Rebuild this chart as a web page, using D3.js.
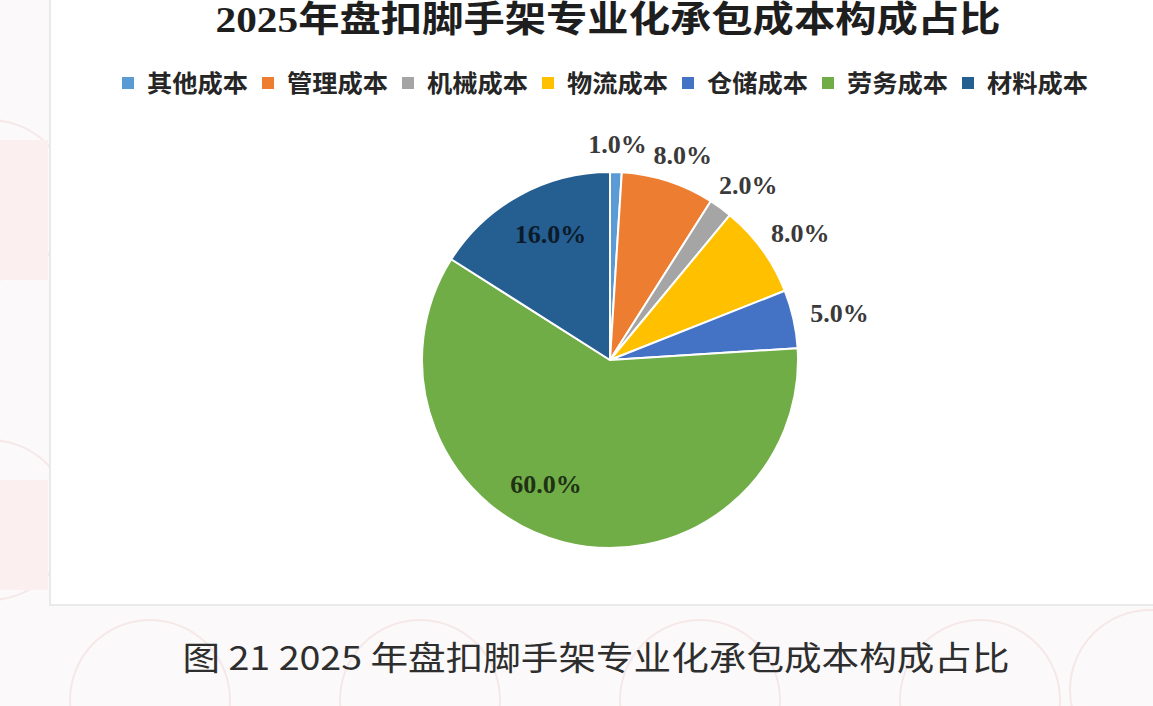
<!DOCTYPE html>
<html>
<head>
<meta charset="utf-8">
<script src="https://cdn.jsdelivr.net/npm/d3@7"></script>
<style>
  html, body { margin: 0; padding: 0; background: #fbf9f9; }
  svg { display: block; }
</style>
</head>
<body>
<svg id="chart" width="1153" height="706"></svg>
<script>
// data
var categories = ["其他成本", "管理成本", "机械成本", "物流成本", "仓储成本", "劳务成本", "材料成本"];
var shares = [1.0, 8.0, 2.0, 8.0, 5.0, 60.0, 16.0];
var colors = ["#5B9BD5", "#ED7D31", "#A5A5A5", "#FFC000", "#4472C4", "#70AD47", "#255E91"];
var insideLabels = ["劳务成本", "材料成本"];
var title = "2025年盘扣脚手架专业化承包成本构成占比";
var caption = "图 21  2025 年盘扣脚手架专业化承包成本构成占比";

var W = 1153, H = 706;
var svg = d3.select("#chart");

// faint stamp watermarks behind the page
var stamps = svg.append("g").attr("fill", "none").attr("stroke", "#f6e8e8").attr("stroke-width", 2);
[[-10, 200], [-10, 520], [150, 700], [420, 700], [700, 700], [980, 700], [1150, 690]].forEach(function(p) {
  stamps.append("circle").attr("cx", p[0]).attr("cy", p[1]).attr("r", 80);
});
svg.append("rect").attr("x", 0).attr("y", 140).attr("width", 48).attr("height", 140).attr("fill", "#fbefef");
svg.append("rect").attr("x", 0).attr("y", 480).attr("width", 48).attr("height", 110).attr("fill", "#fbefef");

// chart area
svg.append("rect")
  .attr("x", 50).attr("y", -2).attr("width", W - 48).attr("height", 607)
  .attr("fill", "#ffffff").attr("stroke", "#e4e4e4").attr("stroke-width", 1.5);

// title
svg.append("text")
  .attr("x", 608).attr("y", 32)
  .attr("text-anchor", "middle")
  .attr("font-family", "'Liberation Serif', 'Noto Sans CJK SC', serif")
  .attr("font-weight", "bold").attr("font-size", 36)
  .attr("fill", "#1e1e1e")
  .attr("textLength", 785).attr("lengthAdjust", "spacingAndGlyphs")
  .text(title);

// legend
var color = d3.scaleOrdinal().domain(categories).range(colors);
var legendX = d3.scalePoint().domain(categories).range([122, 122 + 140 * 6]);
var legend = svg.append("g").selectAll("g")
  .data(categories).join("g")
  .attr("transform", function(d) { return "translate(" + legendX(d) + ",83)"; });
legend.append("rect")
  .attr("x", 0).attr("y", -6).attr("width", 12).attr("height", 12)
  .attr("fill", function(d) { return color(d); });
legend.append("text")
  .attr("x", 25).attr("y", 0).attr("dy", "0.36em")
  .attr("font-family", "'Noto Sans CJK SC', sans-serif")
  .attr("font-weight", "bold").attr("font-size", 24)
  .attr("fill", "#262626")
  .attr("textLength", 101).attr("lengthAdjust", "spacingAndGlyphs")
  .text(function(d) { return d; });

// pie
var cx = 610, cy = 360, R = 188;
var pie = d3.pie().sort(null).value(function(d) { return d.v; });
var arcs = pie(categories.map(function(c, i) { return { name: c, v: shares[i] }; }));
var arc = d3.arc().innerRadius(0).outerRadius(R);

var g = svg.append("g").attr("transform", "translate(" + cx + "," + cy + ")");
g.selectAll("path")
  .data(arcs).join("path")
  .attr("d", arc)
  .attr("fill", function(d) { return color(d.data.name); })
  .attr("stroke", "#ffffff").attr("stroke-width", 2).attr("stroke-linejoin", "round");

// data labels
var fmt = function(v) { return v.toFixed(1) + "%"; };
var labels = g.selectAll("text.lbl")
  .data(arcs).join("text")
  .attr("class", "lbl")
  .attr("text-anchor", "middle")
  .attr("dy", "0.35em")
  .attr("font-family", "'Liberation Serif', serif")
  .attr("font-weight", "bold").attr("font-size", 26)
  .attr("fill", function(d) {
    return insideLabels.indexOf(d.data.name) >= 0 ? d3.color(color(d.data.name)).darker(3.5) : "#3a3a3a";
  })
  .text(function(d) { return fmt(d.data.v); });

labels.each(function(d) {
  var el = d3.select(this);
  var inside = insideLabels.indexOf(d.data.name) >= 0;
  var x, y;
  if (inside) {
    var a = d.startAngle + 0.56 * (d.endAngle - d.startAngle);
    x = Math.sin(a) * R * 0.74;
    y = -Math.cos(a) * R * 0.74;
  } else {
    var m = (d.startAngle + d.endAngle) / 2;
    var bb = this.getBBox();
    var gap = 18;
    x = Math.sin(m) * (R + gap + bb.width / 2);
    y = -Math.cos(m) * (R + gap + 10);
  }
  el.attr("x", x).attr("y", y);
});

// caption
svg.append("text")
  .attr("x", 596).attr("y", 670)
  .attr("text-anchor", "middle")
  .attr("font-family", "'Noto Sans CJK SC', sans-serif")
  .attr("font-size", 33)
  .attr("fill", "#2e2e2e")
  .attr("textLength", 827).attr("lengthAdjust", "spacingAndGlyphs")
  .text(caption);
</script>
</body>
</html>
